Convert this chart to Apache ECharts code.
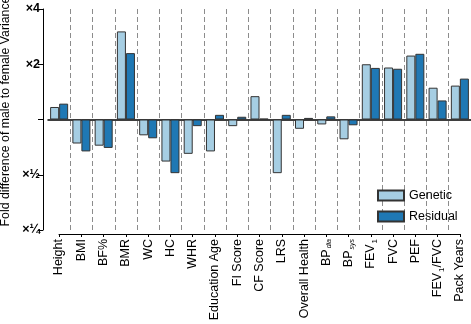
<!DOCTYPE html>
<html>
  <head>
    <meta charset="utf-8" />
    <title>Fold difference of male to female variance</title>
    <style>
      body {
        margin: 0;
        padding: 0;
        background: #fff;
      }
      #chart {
        width: 471px;
        height: 324px;
      }
    </style>
  </head>
  <body>
    <div id="chart"></div>
    <script src="https://cdn.jsdelivr.net/npm/echarts@6/dist/echarts.min.js"></script>
    <script type="text/javascript">
      var categories = [
        'Height', 'BMI', 'BF%', 'BMR', 'WC', 'HC', 'WHR', 'Education Age', 'FI Score', 'CF Score',
        'LRS', 'Overall Health', 'BP_dia', 'BP_sys', 'FEV_1', 'FVC', 'PEF', 'FEV_1/FVC', 'Pack Years'
      ];
      // fold difference (male / female)
      var genetic = [1.17, 0.74, 0.72, 3.02, 0.82, 0.59, 0.65, 0.67, 0.92, 1.34, 0.51, 0.89, 0.94, 0.78, 2.0, 1.92, 2.23, 1.49, 1.53];
      var residual = [1.22, 0.67, 0.7, 2.3, 0.79, 0.51, 0.92, 1.06, 1.035, 1.01, 1.06, 1.02, 1.04, 0.93, 1.91, 1.89, 2.28, 1.27, 1.67];
      var tickLabels = { '-2': '×¼', '-1': '×½', '0': '', '1': '×2', '2': '×4' };

      var font = 'Liberation Sans, Arial, Helvetica, sans-serif';

      function log2(arr) {
        return arr.map(function (v) {
          return Math.log2(v);
        });
      }

      // BP_dia -> BP with subscript "dia"
      function catLabel(name) {
        var parts = name.split('_');
        if (parts.length == 1) return '{n|' + name + '}';
        var rest = parts[1];
        var sub = rest, tail = '';
        var slash = rest.indexOf('/');
        if (slash >= 0) {
          sub = rest.slice(0, slash);
          tail = rest.slice(slash);
        }
        var subStyle = /^[0-9]+$/.test(sub) ? 'sub' : 'subi';
        return '{n|' + parts[0] + '}{' + subStyle + '|' + sub + '}' + (tail ? '{n|' + tail + '}' : '');
      }

      var chart = echarts.init(document.getElementById('chart'), null, { renderer: 'canvas' });

      var option = {
        backgroundColor: '#fff',
        animation: false,
        textStyle: { fontFamily: font },
        grid: [
          { left: 48, right: 0, top: 9, height: 221, outerBoundsMode: 'none' },
          { left: 59, right: 11, top: 233, height: 1, outerBoundsMode: 'none' }
        ],
        legend: {
          orient: 'vertical',
          left: 377,
          top: 189,
          padding: 0,
          itemWidth: 26,
          itemHeight: 10,
          itemGap: 8,
          icon: 'rect',
          textStyle: { fontSize: 12.5, color: '#000', fontFamily: font },
          data: ['Genetic', 'Residual']
        },
        xAxis: [
          {
            type: 'category',
            gridIndex: 0,
            data: categories,
            axisLine: { show: true, onZero: true, lineStyle: { color: '#000', width: 1.5 } },
            axisTick: { show: false, interval: 0 },
            axisLabel: { show: false, interval: 0 },
            splitLine: {
              show: true,
              interval: 0,
              showMinLine: false,
              showMaxLine: false,
              lineStyle: { color: '#8c8c8c', type: [5, 3], width: 1 }
            }
          },
          {
            type: 'category',
            gridIndex: 1,
            data: categories,
            boundaryGap: false,
            position: 'bottom',
            axisLine: { show: true, lineStyle: { color: '#000', width: 1 } },
            axisTick: { show: true, interval: 0, length: 3, lineStyle: { color: '#000' } },
            axisLabel: {
              rotate: 90,
              margin: 5,
              interval: 0,
              color: '#000',
              formatter: catLabel,
              rich: {
                n: { fontSize: 12.5, fontFamily: font, color: '#000', lineHeight: 14 },
                sub: { fontSize: 8, fontFamily: font, color: '#000', lineHeight: 14, padding: [8, 0, 0, 1] },
                subi: { fontSize: 7, fontFamily: font, fontStyle: 'italic', color: '#000', lineHeight: 14, padding: [6, 0, 0, 1] }
              }
            }
          }
        ],
        yAxis: [
          {
            type: 'value',
            gridIndex: 0,
            min: -2,
            max: 2,
            interval: 1,
            offset: 5,
            name: 'Fold difference of male to female Variance',
            nameLocation: 'middle',
            nameGap: 30,
            nameTextStyle: { fontSize: 12.3, color: '#000', fontFamily: font, padding: [0, 0, 0, 16] },
            axisLine: { show: true, lineStyle: { color: '#000', width: 1 } },
            axisTick: { show: true, length: 5, lineStyle: { color: '#000' } },
            axisLabel: {
              fontSize: 12.5,
              fontWeight: 'bold',
              color: '#000',
              margin: 3,
              formatter: function (v) {
                return tickLabels[String(v)];
              }
            },
            splitLine: { show: false }
          },
          {
            type: 'value',
            gridIndex: 1,
            show: false
          }
        ],
        series: [
          {
            name: 'Genetic',
            type: 'bar',
            xAxisIndex: 0,
            yAxisIndex: 0,
            barGap: '0%',
            barCategoryGap: '19%',
            itemStyle: { color: '#a6cee3', borderColor: '#333', borderWidth: 1 },
            data: log2(genetic)
          },
          {
            name: 'Residual',
            type: 'bar',
            xAxisIndex: 0,
            yAxisIndex: 0,
            barGap: '0%',
            barCategoryGap: '19%',
            itemStyle: { color: '#1f78b4', borderColor: '#333', borderWidth: 1 },
            data: log2(residual)
          }
        ]
      };

      chart.setOption(option);
    </script>
  </body>
</html>
